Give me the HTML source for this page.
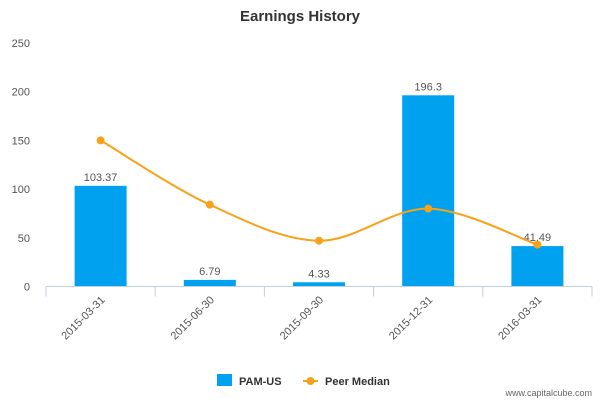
<!DOCTYPE html>
<html><head><meta charset="utf-8"><style>
body{margin:0;background:#fff;font-family:"Liberation Sans","DejaVu Sans",sans-serif}
</style></head><body>
<svg id="c" width="600" height="400" xmlns="http://www.w3.org/2000/svg" font-family="Liberation Sans, DejaVu Sans, sans-serif">
<text x="300" y="21" text-anchor="middle" font-size="15" font-weight="bold" fill="#333">Earnings History</text>
<g id="yaxis"></g>
<g id="bars"></g>
<g id="line"></g>
<g id="xaxis"></g>
<g>
<rect x="217" y="374" width="15" height="12" fill="#00a2ef"/>
<text x="239" y="385" font-size="11" font-weight="bold" fill="#333">PAM-US</text>
<line x1="303" y1="381" x2="318" y2="381" stroke="#f8a11a" stroke-width="2"/>
<circle cx="310.5" cy="381" r="4" fill="#f8a11a"/>
<text x="325" y="385" font-size="11" font-weight="bold" fill="#333">Peer Median</text>
</g>
<text x="592" y="396" text-anchor="end" font-size="9" fill="#666">www.capitalcube.com</text>
</svg>
<script>
const categories=["2015-03-31","2015-06-30","2015-09-30","2015-12-31","2016-03-31"];
const pamValues=[103.37,6.79,4.33,196.3,41.49];
const pamLabels=["103.37","6.79","4.33","196.3","41.49"];
const peerValues=[150,84,47,80,43];
const yTicks=[0,50,100,150,200,250];
const NS="http://www.w3.org/2000/svg";
const L=46,R=592,Y0=286.5,Ytop=43,YMAX=250;
const bw=(R-L)/categories.length;
const x=i=>L+bw*(i+0.5);
const y=v=>Y0-(Y0-Ytop)*v/YMAX;
function mk(tag,attrs,parent,txt){const e=document.createElementNS(NS,tag);for(const k in attrs)e.setAttribute(k,attrs[k]);if(txt!==undefined)e.textContent=txt;parent.appendChild(e);return e;}
const ya=document.getElementById('yaxis');
yTicks.forEach(t=>{const e=mk('text',{x:30,y:y(t)+4,'text-anchor':'end','font-size':11,fill:'#555'},ya,String(t));

});
const bars=document.getElementById('bars');
pamValues.forEach((v,i)=>{const r=mk('rect',{x:x(i)-26,y:y(v),width:52,height:Y0-y(v),fill:'#00a2ef'},bars);


const t=mk('text',{x:x(i),y:y(v)-5,'text-anchor':'middle','font-size':11,fill:'#555'},bars,pamLabels[i]);

});
const lg=document.getElementById('line');
const pts=peerValues.map((v,i)=>[x(i),y(v)]);
let d='M'+pts[0][0]+','+pts[0][1];
for(let i=0;i<pts.length-1;i++){const p0=pts[Math.max(i-1,0)],p1=pts[i],p2=pts[i+1],p3=pts[Math.min(i+2,pts.length-1)];
const c1=[p1[0]+(p2[0]-p0[0])/6,p1[1]+(p2[1]-p0[1])/6],c2=[p2[0]-(p3[0]-p1[0])/6,p2[1]-(p3[1]-p1[1])/6];
d+=' C'+c1+' '+c2+' '+p2;}
const pl=mk('path',{d:d,fill:'none',stroke:'#f8a11a','stroke-width':2},lg);


pts.forEach((p,i)=>{const c=mk('circle',{cx:p[0],cy:p[1],r:4,fill:'#f8a11a'},lg);

});
const xa=document.getElementById('xaxis');
mk('line',{x1:L,y1:Y0,x2:R,y2:Y0,stroke:'#c0d0e0','stroke-width':1},xa);
for(let i=0;i<=categories.length;i++){mk('line',{x1:L+bw*i,y1:Y0,x2:L+bw*i,y2:Y0+10,stroke:'#c0d0e0'},xa);}
categories.forEach((c,i)=>{const t=mk('text',{x:x(i)+5,y:Y0+14,'text-anchor':'end','font-size':11,fill:'#555',transform:'rotate(-45 '+(x(i)+5)+' '+(Y0+14)+')'},xa,c);

});
</script>
</body></html>
